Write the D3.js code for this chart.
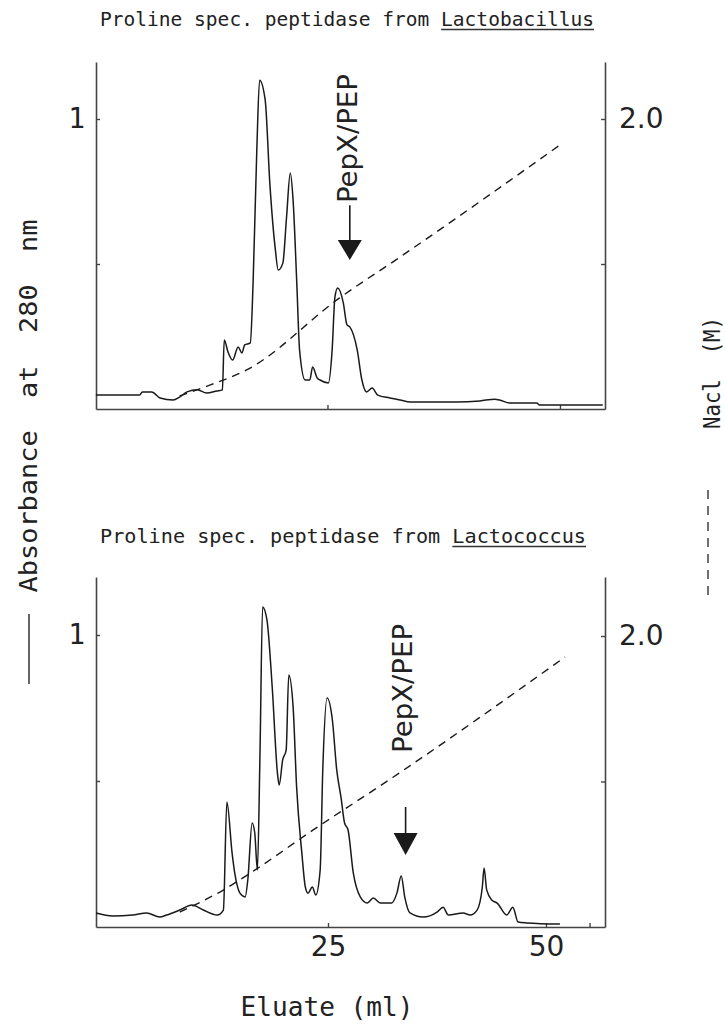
<!DOCTYPE html>
<html>
<head>
<meta charset="utf-8">
<script src="https://d3js.org/d3.v7.min.js"></script>
<style>
  body { margin: 0; background: #fff; }
  text { fill: #222; }
</style>
</head>
<body>
<svg id="chart" width="725" height="1028"></svg>
<script>
// --- data: eluate (ml) vs absorbance / NaCl (M) ---
const topMl = [0.1, 4.8, 5.1, 6.1, 7.0, 8.4, 9.1, 9.9, 11.0, 12.0, 13.1, 13.7, 13.9, 14.3, 14.8, 15.4, 15.8, 16.1, 16.7, 17.0,
  17.4, 17.7, 18.3, 18.8, 19.4, 19.7, 20.2, 20.6, 21.0, 21.3, 21.7, 22.0, 22.6, 23.1, 23.4, 23.9, 24.2, 25.1, 25.5, 25.8,
  26.1, 26.7, 27.1, 27.4, 28.2, 28.7, 29.2, 29.8, 30.4, 31.7, 32.8, 33.9, 38.9, 41.4, 43.0, 43.5, 44.6, 47.5, 47.8, 54.6];
const topAbs = [0.048, 0.048, 0.059, 0.059, 0.038, 0.031, 0.041, 0.059, 0.066, 0.055, 0.062, 0.066, 0.238, 0.197, 0.169, 0.214, 0.193, 0.221, 0.228, 0.434,
  0.893, 1.134, 1.066, 0.779, 0.548, 0.479, 0.503, 0.662, 0.814, 0.721, 0.434, 0.203, 0.100, 0.100, 0.145, 0.107, 0.100, 0.090, 0.203, 0.386,
  0.417, 0.366, 0.290, 0.283, 0.203, 0.100, 0.059, 0.072, 0.048, 0.038, 0.031, 0.024, 0.024, 0.028, 0.034, 0.031, 0.021, 0.021, 0.014, 0.014];
const topSaltMl = [9.1, 12.4, 16.3, 26.3, 32.8, 50.0];
const topSalt = [0.090, 0.166, 0.269, 0.766, 1.048, 1.821];

const botMl = [-1.6, 0.3, 2.6, 4.2, 5.7, 6.5, 8.0, 9.4, 10.7, 12.3, 13.0, 13.4, 14.0, 14.3, 14.9, 15.5, 15.8, 16.3, 16.6, 16.9,
  17.2, 17.5, 18.0, 18.6, 19.2, 19.4, 19.8, 20.2, 20.5, 21.0, 21.4, 22.0, 22.4, 22.7, 23.2, 23.6, 24.1, 24.4, 24.9, 25.5,
  26.0, 26.5, 26.9, 27.3, 27.9, 28.7, 29.5, 30.2, 31.0, 32.3, 32.9, 33.4, 33.8, 34.4, 35.9, 37.5, 38.2, 38.8, 40.5, 41.3,
  42.1, 42.7, 42.9, 43.2, 43.8, 44.4, 45.5, 46.2, 46.8, 47.8, 51.6];
const botAbs = [0.048, 0.038, 0.041, 0.048, 0.034, 0.041, 0.058, 0.075, 0.058, 0.041, 0.058, 0.428, 0.253, 0.185, 0.116, 0.103, 0.161, 0.356, 0.322, 0.195,
  0.596, 1.096, 1.051, 0.822, 0.527, 0.486, 0.572, 0.606, 0.863, 0.753, 0.479, 0.253, 0.137, 0.116, 0.137, 0.110, 0.195, 0.538, 0.784, 0.709,
  0.538, 0.442, 0.356, 0.332, 0.185, 0.103, 0.082, 0.099, 0.082, 0.082, 0.116, 0.175, 0.103, 0.048, 0.034, 0.051, 0.068, 0.041, 0.048, 0.041,
  0.058, 0.137, 0.202, 0.127, 0.092, 0.082, 0.041, 0.068, 0.017, 0.014, 0.010];
const botSaltMl = [8.0, 9.2, 13.0, 16.1, 23.3, 32.5, 52.2];
const botSalt = [0.103, 0.137, 0.254, 0.371, 0.667, 1.031, 1.856];

const titles = ["Proline spec. peptidase from ", "Proline spec. peptidase from "];
const species = ["Lactobacillus", "Lactococcus"];
const absTicks = [0.5, 1];
const saltTicks = [1, 2];
const arrowMl = [27.4, 33.9];   // where PepX/PEP elutes

const svg = d3.select("#chart");
const ink = "#1a1a1a";

// panels: layout in pixels, data from the arrays above
const panels = [
  { ml: topMl, abs: topAbs, sMl: topSaltMl, salt: topSalt, xDom: [0.11, 54.84], base: 409, top: 62, aUnit: 290, sUnit: 145,
    xTicks: [25, 50], xLab: false, title: titles[0], sp: species[0], tx: 100, tw: 494, ty: 26,
    arrow: arrowMl[0], tip: 0.514, triTop: 0.583, lineTop: 0.703, textStart: 0.71, textDx: -2 },
  { ml: botMl, abs: botAbs, sMl: botSaltMl, salt: botSalt, xDom: [-1.61, 56.77], base: 927, top: 577, aUnit: 292, sUnit: 145.5,
    xTicks: [25, 50, 55], xLab: true, title: titles[1], sp: species[1], tx: 100, tw: 486, ty: 543,
    arrow: arrowMl[1], tip: 0.247, triTop: 0.322, lineTop: 0.411, textStart: 0.596, textDx: -3 }
];

panels.forEach(p => {
  const x = d3.scaleLinear().domain(p.xDom).range([96, 605]);
  const yA = d3.scaleLinear().domain([0, (p.base - p.top) / p.aUnit]).range([p.base, p.top]);
  const yS = d3.scaleLinear().domain([0, (p.base - p.top) / p.sUnit]).range([p.base, p.top]);
  const g = svg.append("g");

  // title with underlined genus
  const full = p.title + p.sp;
  g.append("text").attr("x", p.tx).attr("y", p.ty)
    .attr("font-family", "DejaVu Sans Mono").attr("font-size", 20)
    .attr("textLength", p.tw).attr("lengthAdjust", "spacingAndGlyphs")
    .text(full);
  const cw = p.tw / full.length;
  g.append("line")
    .attr("x1", p.tx + p.title.length * cw).attr("x2", p.tx + p.tw)
    .attr("y1", p.ty + 3.5).attr("y2", p.ty + 3.5)
    .attr("stroke", "#333").attr("stroke-width", 1.3);

  // axes
  const bottom = g.append("g").attr("transform", "translate(0," + p.base + ")")
    .call(d3.axisBottom(x).tickValues(p.xTicks).tickSizeInner(-4).tickSizeOuter(0).tickPadding(9)
      .tickFormat(d => (p.xLab && d !== 55) ? d : ""));
  bottom.attr("font-family", "DejaVu Sans").attr("font-size", 28);

  const left = g.append("g").attr("transform", "translate(96,0)")
    .call(d3.axisLeft(yA).tickValues(absTicks).tickSizeInner(-4).tickSizeOuter(0).tickPadding(11)
      .tickFormat(d => d === 1 ? "1" : ""));
  left.attr("font-family", "DejaVu Sans Mono").attr("font-size", 28);

  const right = g.append("g").attr("transform", "translate(605,0)")
    .call(d3.axisRight(yS).tickValues(saltTicks).tickSizeInner(-4).tickSizeOuter(0).tickPadding(14)
      .tickFormat(d => d === 2 ? "2.0" : ""));
  right.attr("font-family", "DejaVu Sans").attr("font-size", 28);

  [bottom, left, right].forEach(a => {
    a.select(".domain").attr("stroke", "#444").attr("stroke-width", 1.6);
    a.selectAll(".tick line").attr("stroke", "#444").attr("stroke-width", 1.4);
    a.selectAll(".tick text").attr("fill", "#222");
  });

  // NaCl gradient (dashed)
  const saltLine = d3.line().x(d => x(d[0])).y(d => yS(d[1])).curve(d3.curveMonotoneX);
  g.append("path").datum(d3.zip(p.sMl, p.salt))
    .attr("d", saltLine).attr("fill", "none")
    .attr("stroke", ink).attr("stroke-width", 1.4).attr("stroke-dasharray", "8,6");

  // absorbance trace
  const absLine = d3.line().x(d => x(d[0])).y(d => yA(d[1])).curve(d3.curveMonotoneX);
  g.append("path").datum(d3.zip(p.ml, p.abs))
    .attr("d", absLine).attr("fill", "none")
    .attr("stroke", ink).attr("stroke-width", 1.5).attr("stroke-linejoin", "round");

  // PepX/PEP arrow
  const ax = x(p.arrow);
  g.append("line").attr("x1", ax).attr("x2", ax)
    .attr("y1", yA(p.lineTop)).attr("y2", yA(p.triTop))
    .attr("stroke", ink).attr("stroke-width", 1.6);
  g.append("path")
    .attr("d", "M" + (ax - 12) + "," + yA(p.triTop) + "L" + (ax + 12) + "," + yA(p.triTop) + "L" + ax + "," + yA(p.tip) + "Z")
    .attr("fill", ink);
  g.append("text")
    .attr("transform", "translate(" + (ax + p.textDx + 9.5) + "," + yA(p.textStart) + ") rotate(-90)")
    .attr("font-family", "DejaVu Sans").attr("font-size", 27)
    .attr("textLength", 129).attr("lengthAdjust", "spacingAndGlyphs")
    .text("PepX/PEP");
});

// shared axis titles and the line-style key
svg.append("text")
  .attr("transform", "translate(37,406) rotate(-90)")
  .attr("text-anchor", "middle").style("white-space", "pre")
  .attr("font-family", "DejaVu Sans Mono").attr("font-size", 25)
  .attr("textLength", 373).attr("lengthAdjust", "spacingAndGlyphs")
  .text("Absorbance  at  280  nm");
svg.append("line").attr("x1", 29).attr("x2", 29).attr("y1", 614).attr("y2", 684)
  .attr("stroke", "#333").attr("stroke-width", 1.5);

svg.append("text")
  .attr("transform", "translate(720,373) rotate(-90)")
  .attr("text-anchor", "middle").style("white-space", "pre")
  .attr("font-family", "DejaVu Sans Mono").attr("font-size", 23)
  .attr("textLength", 112).attr("lengthAdjust", "spacingAndGlyphs")
  .text("Nacl  (M)");
svg.append("line").attr("x1", 708).attr("x2", 708).attr("y1", 490).attr("y2", 596)
  .attr("stroke", "#333").attr("stroke-width", 1.4).attr("stroke-dasharray", "9,7");

svg.append("text")
  .attr("x", 327).attr("y", 1016).attr("text-anchor", "middle")
  .attr("font-family", "DejaVu Sans Mono").attr("font-size", 27)
  .attr("textLength", 173).attr("lengthAdjust", "spacingAndGlyphs")
  .text("Eluate (ml)");
</script>
</body>
</html>
